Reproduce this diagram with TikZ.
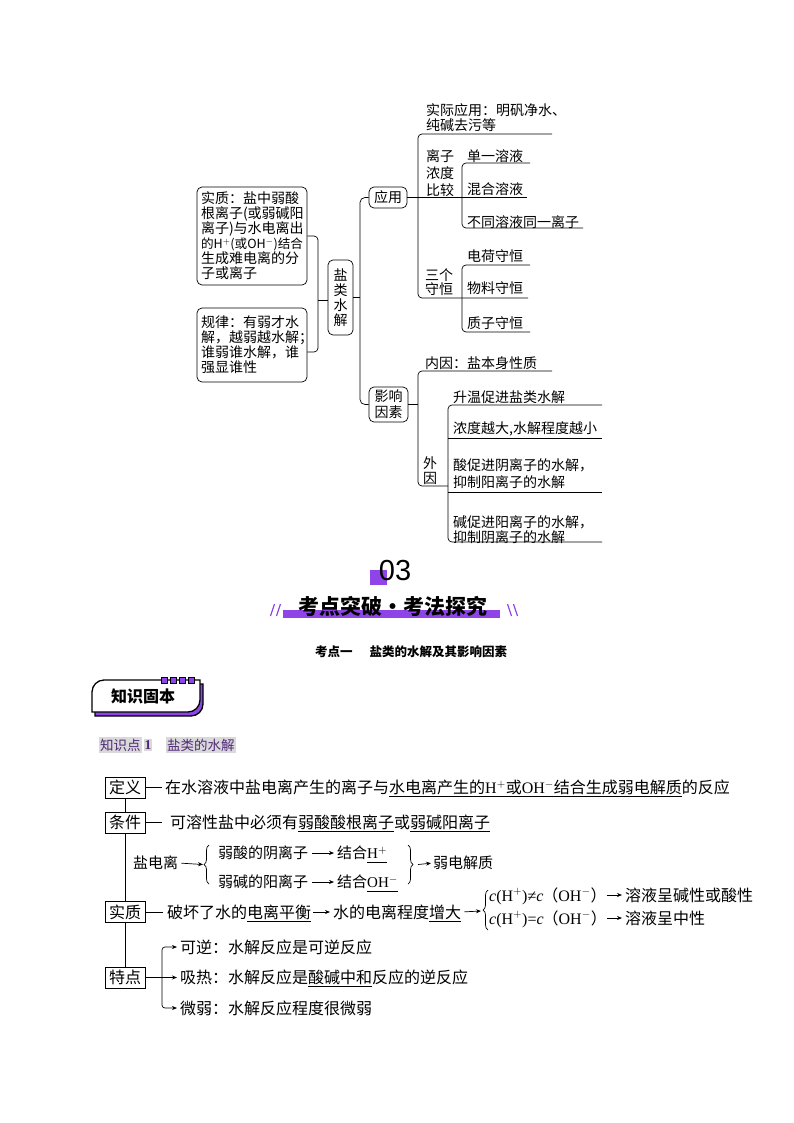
\documentclass[tikz,border=0pt]{standalone}
\usepackage{fontspec}
\setmainfont{Noto Sans CJK SC}
\newfontfamily\latinf{Liberation Serif}
\newfontfamily\numf{Liberation Sans}
\usetikzlibrary{arrows.meta,decorations.pathreplacing,calc}
\definecolor{vio}{RGB}{142,68,230}
\definecolor{dpurple}{RGB}{80,40,120}
\definecolor{hlgray}{RGB}{217,217,217}
\newcommand\Hp{{\latinf H}$^{+}$}
\newcommand\OHm{{\latinf OH}$^{-}$}
\newcommand\cc{{\latinf\itshape c}}
\newsavebox\ulbox
\newcommand\ulx[1]{\sbox\ulbox{#1}\rlap{\rule[-3.5pt]{\wd\ulbox}{0.7pt}}\usebox\ulbox}
\begin{document}
\begin{tikzpicture}[x=1pt,y=-1pt,
  ln/.style={line width=.7pt,black},
  mbox/.style={draw,line width=.7pt,rounded corners=5pt,inner sep=0pt,fill=white,font=\fontsize{14}{15}\selectfont},
  lt/.style={inner sep=0pt,anchor=west,font=\fontsize{14}{15}\selectfont,text height=12.3pt,text depth=1.7pt},
  ltc/.style={lt,anchor=center},
  bx/.style={draw,line width=.8pt,minimum width=40pt,minimum height=21pt,inner sep=0pt,fill=white,font=\fontsize{16}{18}\selectfont},
  tx/.style={inner sep=0pt,anchor=west,font=\fontsize{16}{18}\selectfont,text height=14.1pt,text depth=1.9pt},
  txs/.style={inner sep=0pt,anchor=west,font=\fontsize{15}{17}\selectfont,text height=13.2pt,text depth=1.8pt},
  arr/.style={line width=.7pt,-{Stealth[length=5pt,width=4pt]}},
  brc/.style={line width=.7pt,decorate,decoration={brace,amplitude=5pt}},
  hl/.style={fill=hlgray,text=dpurple,inner xsep=1pt,inner ysep=2pt,anchor=west,font=\fontsize{13.5}{15}\selectfont}
]
\path[use as bounding box,fill=white] (0,0) rectangle (794,1123);

% ================= mind map =================
\node[mbox,minimum width=110pt,minimum height=98pt,text width=102pt,align=left] (b1) at (252,236)
 {实质：盐中弱酸\\根离子(或弱碱阳\\离子)与水电离出\\{\fontsize{12.6}{15}\selectfont 的H$^{+}$(或OH$^{-}$)结合}\\生成难电离的分\\子或离子};
\node[mbox,minimum width=110pt,minimum height=74pt,text width=102pt,align=left] (b2) at (252,345)
 {规律：有弱才水\\解，越弱越水解；\\谁弱谁水解，谁\\强显谁性};
\node[mbox,minimum width=25pt,minimum height=75pt,align=center] (m) at (340.5,297.5) {盐\\类\\水\\解};
\node[mbox,minimum width=38pt,minimum height=21pt] (yy) at (388,197.5) {应用};
\node[mbox,minimum width=39pt,minimum height=35pt,align=center,font=\fontsize{14}{16}\selectfont] (yx) at (388.5,404.5) {影响\\因素};

\coordinate (lb) at (318,0);
\draw[ln,rounded corners=4pt] (b1.east) -- (b1.east -| lb) -- ($(b2.east -| lb)+(0,7)$) -- ($(b2.east)+(0,7)$);
\draw[ln] ($(m.west)+(0,3)$) -- ($(m.west -| lb)+(0,3)$);
\coordinate (sp) at (360,0);
\draw[ln] (m.east) -- (m.east -| sp);
\draw[ln,rounded corners=5pt] (yy.west) -- (yy.west -| sp) -- (yx.west -| sp) -- (yx.west);

% branch 应用
\coordinate (a1) at (418,134); \coordinate (a1e) at (552,134);
\coordinate (a3) at (418,298); \coordinate (a3e) at (528,298);
\coordinate (a2e) at (527,197.5);
\draw[ln,rounded corners=4pt] (a1e) -- (a1) -- (a3) -- (a3e);
\draw[ln] (yy.east) -- (a2e);
\draw[ln,rounded corners=4pt] (530,163) -- (462,163) -- (462,228) -- (583,228);
\draw[ln,rounded corners=4pt] (530,265) -- (462,265) -- (462,332) -- (530,332);

\node[lt] (s1) at (426,110) {实际应用：明矾净水、};
\node[lt] (s2) at (426,125) {纯碱去污等};
\node[ltc] (g1) at (440,156) {离子};
\node[ltc] (g2) at (440,173) {浓度};
\node[ltc] (g3) at (440,190) {比较};
\node[lt] (c1l) at (467,156) {单一溶液};
\node[lt] (c2l) at (467,189) {混合溶液};
\node[lt] (c3l) at (467,222) {不同溶液同一离子};
\node[ltc] (h1) at (439,275) {三个};
\node[ltc] (h2) at (439,289) {守恒};
\node[lt] (d1) at (467,256) {电荷守恒};
\node[lt] (d2) at (467,288) {物料守恒};
\node[lt] (d3) at (467,323) {质子守恒};

% branch 影响因素
\coordinate (bb) at (418,0);
\draw[ln] (yx.east) -- (yx.east -| bb);
\draw[ln,rounded corners=4pt] (552,371) -- (418,371) -- (418,486) -- (448,486);
\draw[ln,rounded corners=4pt] (602,405) -- (448,405) -- (448,542) -- (602,542);
\draw[ln] (448,438) -- (602,438);
\draw[ln] (448,492) -- (602,492);
\node[lt] (n1) at (425,363) {内因：盐本身性质};
\node[ltc] (w1) at (430,463) {外};
\node[ltc] (w2) at (430,478) {因};
\node[lt] (e1) at (453,397) {升温促进盐类水解};
\node[lt] (e2) at (453,428) {浓度越大,水解程度越小};
\node[lt] (e3a) at (453,465) {酸促进阴离子的水解，};
\node[lt] (e3b) at (453,482) {抑制阳离子的水解};
\node[lt] (e4a) at (453,522) {碱促进阳离子的水解，};
\node[lt] (e4b) at (453,537) {抑制阴离子的水解};

% ================= header =================
\fill[vio] (370,570) rectangle (387,585);
\node[font=\numf\fontsize{29}{29}\selectfont,inner sep=0pt] (n03) at (395,571) {03};
\fill[vio] (283,610) rectangle (500,617.5);
\node[font=\bfseries\fontsize{21}{21}\selectfont,inner sep=0pt] (ttl) at (393,606) {考点突破·考法探究};
\draw[vio,line width=1.2pt] (270.5,616) -- (274.5,604) (276.5,616) -- (280.5,604);
\draw[vio,line width=1.2pt] (507.5,604) -- (511.5,616) (513.5,604) -- (517.5,616);
\node[font=\bfseries\fontsize{12.5}{13}\selectfont,inner sep=0pt] (sub) at (411,652) {考点一\hspace{17pt}盐类的水解及其影响因素};

% badge
\begin{scope}[shift={(3,4)}]
\filldraw[fill=vio,draw=black,line width=1.3pt] (92,712) -- (92,692) .. controls (92,685.4) and (97.4,680) .. (104,680) -- (200,680) -- (200,700) .. controls (200,706.6) and (194.6,712) .. (188,712) -- cycle;
\end{scope}
\filldraw[fill=white,draw=black,line width=1.3pt] (92,712) -- (92,692) .. controls (92,685.4) and (97.4,680) .. (104,680) -- (200,680) -- (200,700) .. controls (200,706.6) and (194.6,712) .. (188,712) -- cycle;
\foreach \xx in {161,170,179,188} {\filldraw[fill=vio,draw=black,line width=.9pt] (\xx,677) rectangle ++(6,6.5);}
\node[font=\bfseries\fontsize{16}{16}\selectfont,inner sep=0pt] (zsgb) at (143,696) {知识固本};

\node[hl] (k1) at (99,745) {知识点};
\node[hl,font=\bfseries\fontsize{13.5}{15}\selectfont] (k2) at (143.5,745) {\latinf 1};
\node[hl] (k3) at (166,745) {盐类的水解};

% ================= bottom diagram =================
\node[bx] (dy) at (125,787.5) {定义};
\node[bx] (tj) at (125,822.5) {条件};
\node[bx] (sz) at (125,912) {实质};
\node[bx] (td) at (125,977.5) {特点};
\draw[ln] (dy.south) -- (tj.north);
\draw[ln] (tj.south) -- (sz.north);
\draw[ln] (sz.south) -- (td.north);

\node[tx] (dyt) at (165,787.5) {在水溶液中盐电离产生的离子与\ulx{水电离产生的\Hp 或\OHm 结合生成弱电解质}的反应};
\draw[ln,shorten >=3pt] (dy.east) -- (dyt.west);
\node[tx] (tjt) at (170,822.5) {可溶性盐中必须有\ulx{弱酸酸根离子}或\ulx{弱碱阳离子}};
\draw[ln,shorten >=8pt] (tj.east) -- (tjt.west);

% 盐电离
\node[txs] (ydl) at (133,863) {盐电离};
\node[txs] (ua) at (218,853) {弱酸的阴离子};
\node[txs] (ub) at (337,853) {结合\ulx{\Hp}};
\node[txs] (la) at (218,882) {弱碱的阳离子};
\node[txs] (lb2) at (337,882) {结合\ulx{\OHm}};
\node[txs] (rz) at (433,863) {弱电解质};
\coordinate (lbt) at (203,864.5);
\coordinate (rbt) at (418,864.5);
\draw[brc] (209,884) -- (209,845);
\draw[brc] (408,845) -- (408,884);
\draw[arr,shorten <=3pt] (ydl.east) -- (lbt);
\draw[arr,shorten <=4pt,shorten >=3pt] (ua.east) -- (ub.west);
\draw[arr,shorten <=4pt,shorten >=3pt] (la.east) -- (lb2.west);
\draw[arr,shorten >=2pt] (rbt) -- (rz.west);

% 实质
\node[tx] (sa) at (167,912) {破坏了水的\ulx{电离平衡}};
\node[tx] (sb) at (333,912) {水的电离程度\ulx{增大}};
\draw[ln,shorten >=4pt] (sz.east) -- (sa.west);
\draw[arr,shorten <=2pt,shorten >=3pt] (sa.east) -- (sb.west);
\coordinate (sbt) at (481,911);
\draw[brc] (488,930) -- (488,890);
\draw[arr,shorten <=3pt] (sb.east) -- (sbt);
\node[tx] (ca) at (489,895) {\cc{\latinf (H}$^{+}${\latinf )≠}\cc\kern-1pt（\OHm）};
\node[tx] (cb) at (489,918) {\cc{\latinf (H}$^{+}${\latinf )=}\cc\kern-1pt（\OHm）};
\node[tx] (car) at (625,895) {溶液呈碱性或酸性};
\node[tx] (cbr) at (625,918) {溶液呈中性};
\draw[arr,shorten >=3pt] (ca.east) -- (car.west);
\draw[arr,shorten >=3pt] (cb.east) -- (cbr.west);

% 特点
\node[tx] (t1) at (180,947) {可逆：水解反应是可逆反应};
\node[tx] (t2) at (180,977.5) {吸热：水解反应是\ulx{酸碱中和}反应的逆反应};
\node[tx] (t3) at (180,1008) {微弱：水解反应程度很微弱};
\coordinate (tk) at (162,977.5);
\draw[ln] (td.east) -- (tk);
\draw[arr,rounded corners=3pt,shorten >=3pt] (tk) |- (t1.west);
\draw[arr,shorten >=3pt] (tk) -- (t2.west);
\draw[arr,rounded corners=3pt,shorten >=3pt] (tk) |- (t3.west);
\end{tikzpicture}
\end{document}
